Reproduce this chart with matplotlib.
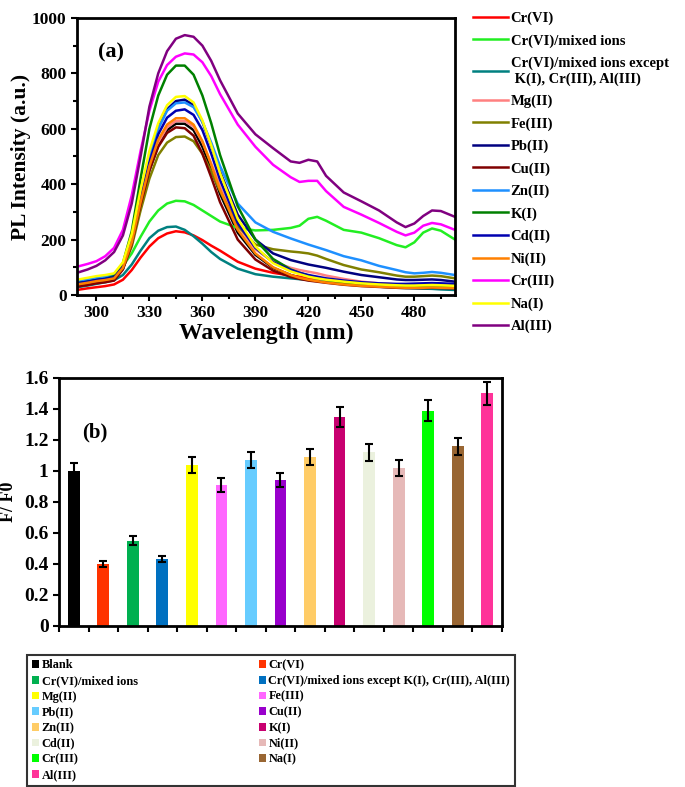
import numpy as np
import matplotlib
matplotlib.use("Agg")
import matplotlib.pyplot as plt
from matplotlib.patches import Patch
from matplotlib.ticker import MultipleLocator, FuncFormatter

plt.rcParams["font.family"] = "Liberation Serif"
plt.rcParams["font.weight"] = "bold"

# --- (a) PL spectra ---
wl = [289, 295, 300, 305, 310, 315, 320, 325, 330, 335, 340, 345, 350, 355, 360, 365, 370,
      380, 390, 400, 410, 415, 420, 425, 430, 440, 450, 460, 470, 475, 480, 485, 490, 495, 503]

blank = [35, 42, 48, 52, 58, 95, 185, 325, 450, 540, 595, 618, 618, 595, 535, 455, 365,
         225, 145, 98, 72, 63, 56, 51, 47, 40, 35, 32, 30, 29, 29, 29, 30, 29, 28]
cr6 = [18, 24, 28, 32, 38, 55, 90, 135, 175, 205, 222, 230, 226, 215, 198, 178, 160,
       120, 95, 80, 70, 66, 60, 55, 50, 42, 36, 32, 28, 27, 26, 25, 24, 23, 21]
cr6_mixed = [40, 46, 52, 60, 75, 105, 150, 210, 265, 305, 330, 340, 338, 325, 305, 285, 265,
             242, 233, 235, 242, 250, 275, 282, 268, 235, 225, 205, 180, 172, 190, 225, 240, 232, 200]
cr6_except = [28, 34, 40, 46, 53, 72, 110, 160, 205, 232, 245, 247, 235, 212, 185, 155, 130,
              95, 75, 66, 60, 57, 54, 51, 48, 40, 35, 30, 26, 25, 24, 23, 22, 20, 18]
mg2 = [40, 46, 52, 56, 62, 100, 190, 330, 455, 550, 605, 628, 628, 608, 552, 475, 390,
       250, 165, 120, 98, 90, 84, 78, 70, 58, 48, 42, 38, 37, 37, 38, 38, 37, 35]
fe3 = [36, 42, 48, 52, 58, 95, 175, 305, 420, 505, 550, 570, 572, 555, 510, 445, 375,
       250, 182, 165, 157, 154, 150, 142, 130, 108, 92, 82, 70, 66, 66, 68, 70, 68, 60]
pb2 = [45, 52, 58, 62, 68, 108, 210, 365, 505, 605, 670, 700, 705, 685, 625, 540, 445,
       290, 200, 150, 126, 118, 110, 104, 98, 84, 72, 64, 56, 54, 54, 55, 56, 54, 48]
cu2 = [30, 36, 42, 46, 52, 92, 185, 325, 450, 535, 585, 605, 602, 575, 510, 425, 335,
       200, 128, 88, 65, 58, 52, 48, 44, 37, 32, 29, 26, 25, 25, 25, 26, 25, 24]
zn2 = [50, 56, 62, 66, 72, 108, 205, 360, 500, 600, 665, 692, 695, 678, 625, 550, 465,
       330, 262, 228, 204, 193, 182, 172, 162, 140, 125, 105, 90, 82, 78, 80, 83, 80, 72]
k1 = [42, 48, 54, 58, 68, 115, 230, 420, 600, 720, 795, 828, 828, 795, 720, 620, 505,
      320, 200, 130, 92, 80, 70, 62, 55, 46, 40, 36, 32, 30, 30, 31, 32, 31, 28]
cd2 = [42, 48, 54, 58, 64, 102, 195, 345, 480, 580, 640, 665, 670, 650, 595, 510, 415,
       260, 170, 118, 90, 80, 72, 66, 60, 52, 46, 42, 40, 40, 41, 42, 43, 42, 40]
ni2 = [38, 44, 50, 54, 60, 98, 190, 335, 465, 560, 615, 638, 638, 615, 555, 470, 380,
       235, 150, 100, 72, 62, 55, 50, 45, 38, 33, 30, 27, 26, 26, 26, 27, 26, 25]
cr3 = [102, 112, 122, 140, 170, 235, 360, 520, 665, 770, 830, 860, 872, 868, 840, 790, 725,
       615, 535, 470, 425, 408, 412, 412, 375, 318, 290, 260, 228, 215, 225, 250, 260, 255, 235]
na1 = [55, 62, 68, 72, 78, 118, 220, 380, 520, 620, 685, 715, 718, 695, 630, 540, 440,
       275, 175, 115, 85, 75, 66, 60, 55, 48, 42, 38, 35, 34, 34, 35, 36, 35, 33]
al3 = [80, 92, 105, 125, 155, 215, 330, 500, 680, 800, 880, 925, 938, 932, 900, 845, 775,
       655, 580, 530, 482, 477, 488, 482, 430, 370, 338, 305, 262, 245, 258, 285, 305, 303, 282]

spec_labels = ["Cr(VI)", "Cr(VI)/mixed ions", "Cr(VI)/mixed ions except\n K(I), Cr(III), Al(III)",
               "Mg(II)", "Fe(III)", "Pb(II)", "Cu(II)", "Zn(II)", "K(I)", "Cd(II)", "Ni(II)",
               "Cr(III)", "Na(I)", "Al(III)"]
spec_data = [cr6, cr6_mixed, cr6_except, mg2, fe3, pb2, cu2, zn2, k1, cd2, ni2, cr3, na1, al3]
spec_colors = ["#ff0000", "#22ee22", "#008080", "#ff8080", "#808000", "#000080", "#800000",
               "#1e90ff", "#008000", "#0000b0", "#ff8000", "#ff00ff", "#ffff00", "#800080"]

# --- (b) F/F0 bars ---
bar_labels = ["Blank", "Cr(VI)", "Cr(VI)/mixed ions", "Cr(VI)/mixed ions except K(I), Cr(III), Al(III)",
              "Mg(II)", "Fe(III)", "Pb(II)", "Cu(II)", "Zn(II)", "K(I)", "Cd(II)", "Ni(II)",
              "Cr(III)", "Na(I)", "Al(III)"]
ratio = [1.00, 0.40, 0.55, 0.43, 1.04, 0.91, 1.07, 0.94, 1.09, 1.35, 1.12, 1.02, 1.39, 1.16, 1.50]
ratio_err = [0.05, 0.02, 0.03, 0.02, 0.05, 0.045, 0.05, 0.045, 0.05, 0.065, 0.055, 0.05, 0.07, 0.055, 0.075]
bar_colors = ["#000000", "#ff3300", "#00b050", "#0070c0", "#ffff00", "#ff66ff", "#66ccff", "#9900cc",
              "#ffcc66", "#c80070", "#ebf1de", "#e6b9b8", "#00ff00", "#996633", "#ff3399"]

fig = plt.figure(figsize=(6.85, 7.87), dpi=100)

# ---------- panel (a) ----------
ax1 = fig.add_axes([0.1124, 0.6252, 0.5518, 0.352])
ax1.plot(wl, blank, color="black", lw=1.8)
for vals, lab, col in zip(spec_data, spec_labels, spec_colors):
    ax1.plot(wl, vals, color=col, lw=1.8, label=lab)
ax1.set_xlim(289, 503)
ax1.set_ylim(0, 1000)
ax1.xaxis.set_major_locator(MultipleLocator(30))
ax1.xaxis.set_minor_locator(MultipleLocator(15))
ax1.yaxis.set_major_locator(MultipleLocator(200))
ax1.yaxis.set_minor_locator(MultipleLocator(100))
ax1.tick_params(which="both", direction="out", width=1.5, labelsize=12.5)
ax1.tick_params(which="major", length=4)
ax1.tick_params(which="minor", length=3)
for s in ax1.spines.values():
    s.set_linewidth(2)
ax1.set_xlabel("Wavelength (nm)", fontsize=17, fontweight="bold", labelpad=1)
ax1.set_ylabel("PL Intensity (a.u.)", fontsize=15.5, fontweight="bold", labelpad=1)
ax1.text(0.056, 0.875, "(a)", transform=ax1.transAxes, fontsize=16, fontweight="bold", va="center")
ax1.legend(loc="upper left", bbox_to_anchor=(1.02, 1.06), frameon=False, fontsize=10.5,
           handlelength=2.4, handletextpad=0.2, labelspacing=0.62, borderaxespad=0.3)

# ---------- panel (b) ----------
ax2 = fig.add_axes([0.0861, 0.2046, 0.6467, 0.3151])
x = np.arange(len(ratio))
ax2.bar(x, ratio, width=0.4, color=bar_colors, yerr=ratio_err, ecolor="black",
        error_kw=dict(elinewidth=1.5, capsize=3, capthick=1.5))
ax2.set_xlim(-0.5, len(ratio) - 0.5)
ax2.set_ylim(0, 1.6)
ax2.set_xticks(np.arange(-0.5, len(ratio), 1))
ax2.set_xticklabels([])
ax2.yaxis.set_major_locator(MultipleLocator(0.2))
ax2.yaxis.set_major_formatter(FuncFormatter(lambda v, p: f"{v:g}"))
ax2.tick_params(direction="out", width=1.5, length=4, labelsize=14)
for s in ax2.spines.values():
    s.set_linewidth(2)
ax2.set_ylabel("F/ F0", fontsize=13, fontweight="bold", labelpad=5)
ax2.text(0.052, 0.78, "(b)", transform=ax2.transAxes, fontsize=15, va="center")

# legend below, row-major order
handles = [Patch(facecolor=c, edgecolor="none") for c in bar_colors]
order = list(range(0, len(handles), 2)) + list(range(1, len(handles), 2))
leg = fig.legend([handles[i] for i in order], [bar_labels[i] for i in order], ncol=2,
                 loc="lower left", bbox_to_anchor=(0.0394, 0.0013, 0.7124, 0.169), mode="expand",
                 fontsize=8.8, handlelength=0.6, handleheight=0.6, handletextpad=0.2,
                 labelspacing=0.3, fancybox=False, edgecolor="black", borderaxespad=0)
leg.get_frame().set_linewidth(1.5)

fig.savefig("out.png", dpi=100)
